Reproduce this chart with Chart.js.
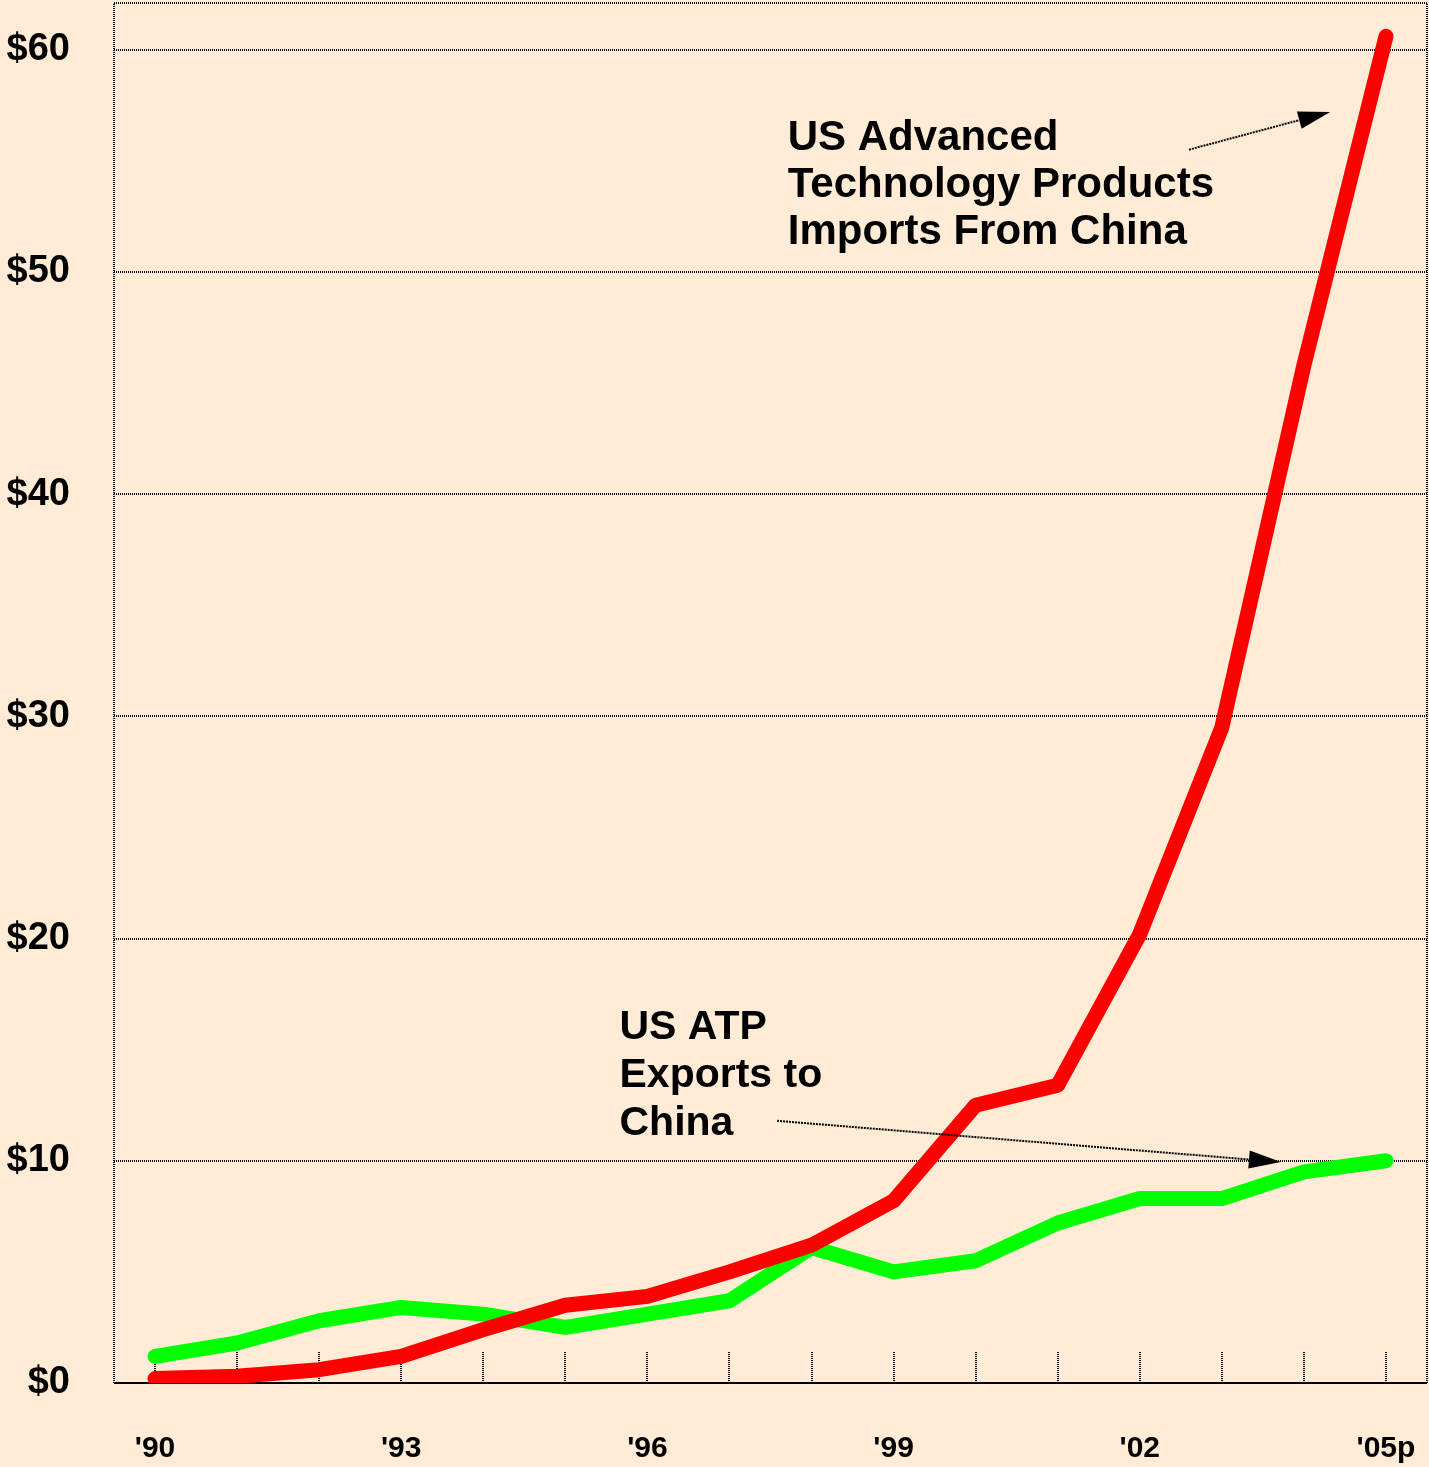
<!DOCTYPE html>
<html>
<head>
	<title>US ATP trade with China</title>
	<script src="https://cdn.jsdelivr.net/npm/chart.js@4/dist/chart.umd.min.js"></script>
	<style>
		html, body { margin: 0; padding: 0; background: #ffebd6; }
		#wrap { width: 1429px; height: 1467px; }
	</style>
</head>
<body>
<div id="wrap"><canvas id="chart1"></canvas></div>
<script>
	// years on the x axis, only every third one gets a label
	var years = ["'90", "'91", "'92", "'93", "'94", "'95", "'96", "'97", "'98", "'99", "'00", "'01", "'02", "'03", "'04", "'05p"];
	// billions of dollars
	var imports = [0.2, 0.3, 0.6, 1.2, 2.4, 3.5, 3.9, 5.0, 6.2, 8.2, 12.5, 13.4, 20.2, 29.5, 45.8, 60.6];
	var exports = [1.2, 1.8, 2.8, 3.4, 3.1, 2.5, 3.1, 3.7, 6.1, 5.0, 5.5, 7.2, 8.3, 8.3, 9.5, 10.0];
	var yTicks = [0, 10, 20, 30, 40, 50, 60];

	// notes placed in data space: [x index, y value]
	var importsNote = ["US Advanced", "Technology Products", "Imports From China"];
	var exportsNote = ["US ATP", "Exports to", "China"];

	var font = "'Liberation Sans', Arial, sans-serif";

	// background, dotted frame, inward ticks and the two notes with arrows
	var decor = {
		id: 'decor',
		beforeDraw: function(chart) {
			var ctx = chart.ctx;
			ctx.save();
			ctx.fillStyle = '#ffebd6';
			ctx.fillRect(0, 0, chart.width, chart.height);
			ctx.restore();
		},
		beforeDatasetsDraw: function(chart) {
			var ctx = chart.ctx, a = chart.chartArea, xs = chart.scales.x;
			ctx.save();
			ctx.strokeStyle = '#000';
			ctx.lineWidth = 2;
			ctx.setLineDash([1, 1]);
			ctx.strokeRect(a.left, a.top, a.right - a.left, a.bottom - a.top);
			for (var i = 0; i < years.length; i++) {
				var px = Math.round(xs.getPixelForTick(i));
				ctx.beginPath();
				ctx.moveTo(px, a.bottom);
				ctx.lineTo(px, a.bottom - 31);
				ctx.stroke();
			}
			ctx.restore();
		},
		afterDatasetsDraw: function(chart) {
			var ctx = chart.ctx, xs = chart.scales.x, ys = chart.scales.y;
			function note(lines, x, y, size, gap) {
				ctx.font = 'bold ' + size + 'px ' + font;
				ctx.fillStyle = '#000';
				ctx.textBaseline = 'alphabetic';
				ctx.textAlign = 'left';
				var px = xs.getPixelForValue(x), py = ys.getPixelForValue(y);
				for (var i = 0; i < lines.length; i++) ctx.fillText(lines[i], px, py + i * gap);
			}
			function arrow(x0, y0, x1, y1) {
				var ax = xs.getPixelForValue(x0), ay = ys.getPixelForValue(y0);
				var bx = xs.getPixelForValue(x1), by = ys.getPixelForValue(y1);
				var ang = Math.atan2(by - ay, bx - ax), len = 32, half = 9;
				var cx = bx - len * Math.cos(ang), cy = by - len * Math.sin(ang);
				ctx.save();
				ctx.strokeStyle = '#000';
				ctx.lineWidth = 2;
				ctx.setLineDash([2, 1]);
				ctx.beginPath();
				ctx.moveTo(ax, ay);
				ctx.lineTo(cx, cy);
				ctx.stroke();
				ctx.setLineDash([]);
				ctx.fillStyle = '#000';
				ctx.beginPath();
				ctx.moveTo(bx, by);
				ctx.lineTo(cx + half * Math.sin(ang), cy - half * Math.cos(ang));
				ctx.lineTo(cx - half * Math.sin(ang), cy + half * Math.cos(ang));
				ctx.closePath();
				ctx.fill();
				ctx.restore();
			}
			ctx.save();
			note(importsNote, 7.71, 55.5, 42, 47);
			note(exportsNote, 5.66, 15.5, 41, 48);
			arrow(12.6, 55.5, 14.32, 57.2);
			arrow(7.58, 11.8, 13.72, 9.94);
			ctx.restore();
		}
	};

	var ctx = document.getElementById('chart1');
	var chart = new Chart(ctx, {
		type: 'line',
		data: {
			labels: years,
			datasets: [{
				label: 'US Advanced Technology Products Imports From China',
				data: imports,
				borderColor: '#ff0000',
				borderWidth: 15,
				borderCapStyle: 'round',
				borderJoinStyle: 'round',
				pointRadius: 0,
				tension: 0,
				fill: false
			}, {
				label: 'US ATP Exports to China',
				data: exports,
				borderColor: '#00ff00',
				borderWidth: 15,
				borderCapStyle: 'round',
				borderJoinStyle: 'round',
				pointRadius: 0,
				tension: 0,
				fill: false
			}]
		},
		options: {
			responsive: true,
			maintainAspectRatio: false,
			animation: false,
			layout: { padding: { top: 3, right: 2, left: 0, bottom: 0 } },
			plugins: { legend: { display: false }, tooltip: { enabled: false } },
			scales: {
				x: {
					offset: true,
					grid: { display: false, drawTicks: false },
					border: { display: false },
					ticks: {
						autoSkip: false,
						maxRotation: 0,
						padding: 48,
						color: '#000',
						font: { family: font, size: 30, weight: 'bold' },
						callback: function(v, i) { return i % 3 === 0 ? years[i] : ''; }
					},
					afterFit: function(s) {
						s.height = 84;
						s.paddingLeft = 0; s.paddingRight = 0;
						s.paddingTop = 0; s.paddingBottom = 0;
					}
				},
				y: {
					min: 0,
					max: 62.1,
					afterBuildTicks: function(s) {
						s.ticks = yTicks.map(function(v) { return { value: v }; });
					},
					grid: {
						drawTicks: false,
						color: '#000',
						lineWidth: 2
					},
					border: { display: false, dash: [1, 1] },
					ticks: {
						padding: 44,
						color: '#000',
						font: { family: font, size: 38, weight: 'bold' },
						callback: function(v) { return '$' + v; }
					},
					afterFit: function(s) {
						s.width = 114;
						s.paddingLeft = 0; s.paddingRight = 0;
						s.paddingTop = 0; s.paddingBottom = 0;
					}
				}
			}
		},
		plugins: [decor]
	});
</script>
</body>
</html>
